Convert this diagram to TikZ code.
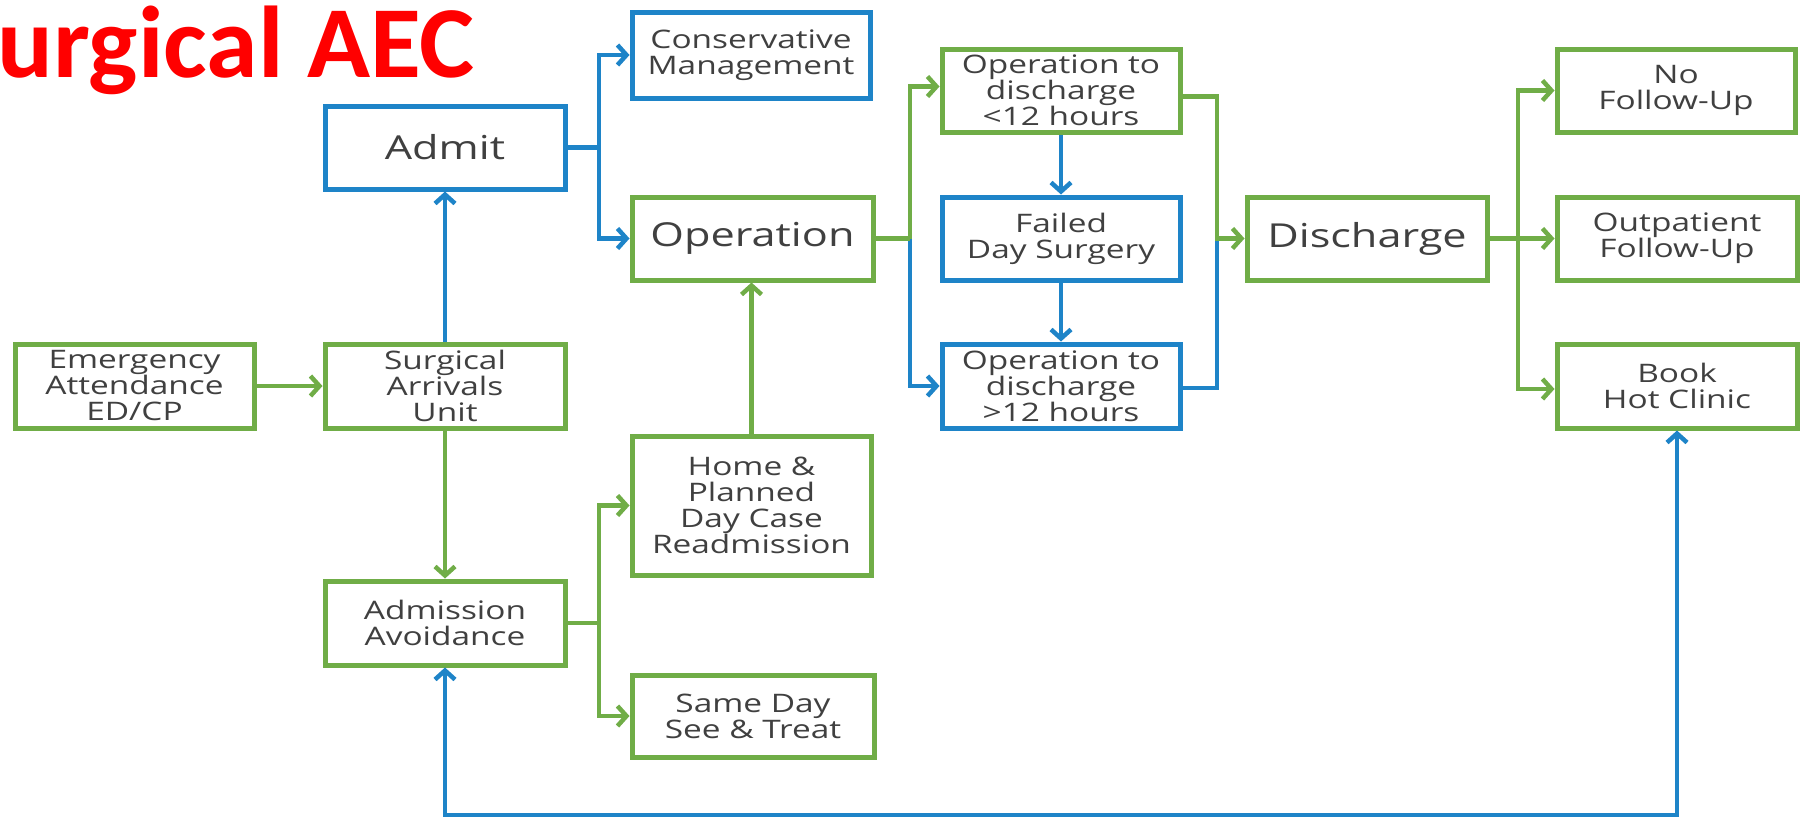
\documentclass[tikz,border=0pt]{standalone}
\usepackage{fontspec}
\usetikzlibrary{arrows.meta}
\newfontfamily\boxfont{Open Sans}[FakeStretch=1.31]
\newfontfamily\titlefont{Carlito}[FakeStretch=1.02]
\definecolor{bblue}{RGB}{30,132,200}
\definecolor{bgreen}{RGB}{112,173,71}
\definecolor{txt}{RGB}{64,64,64}
\tikzset{
  box/.style={draw, line width=5pt, inner sep=0pt, align=center, text=txt,
    font=\boxfont\fontsize{25.5}{26}\selectfont},
  bigbox/.style={box, font=\boxfont\fontsize{33}{34}\selectfont},
  gbox/.style={box, draw=bgreen},
  bbox/.style={box, draw=bblue},
  gline/.style={draw=bgreen, line width=4.5pt},
  bline/.style={draw=bblue, line width=4.5pt},
  tipend/.style={-{Straight Barb[length=9pt,width=20pt]}},
  garr/.style={gline, tipend},
  barr/.style={bline, tipend},
}
\begin{document}
\begin{tikzpicture}[x=1pt,y=-1pt]
\useasboundingbox[fill=white] (0,0) rectangle (1804,819);

\node[anchor=base west, text=red, font=\titlefont\bfseries\fontsize{102}{104}\selectfont, inner sep=0pt] (title) at (-3,77) {urgical AEC};

% boxes
\node[bbox, minimum width=238pt, minimum height=86pt] (cons) at (751,55) {Conservative\\Management};
\node[bbox, bigbox, draw=bblue, minimum width=240pt, minimum height=83pt] (admit) at (445,147.5) {Admit};
\node[gbox, bigbox, draw=bgreen, minimum width=241pt, minimum height=83pt] (oper) at (752.5,238.5) {Operation};
\node[gbox, minimum width=238pt, minimum height=83pt] (op12a) at (1061,90.5) {Operation to\\discharge\\<12 hours};
\node[bbox, minimum width=238pt, minimum height=83pt] (failed) at (1061,238.5) {Failed\\Day Surgery};
\node[bbox, minimum width=238pt, minimum height=84pt] (op12b) at (1061,386) {Operation to\\discharge\\>12 hours};
\node[gbox, bigbox, draw=bgreen, minimum width=240pt, minimum height=83pt] (disch) at (1367,238.5) {Discharge};
\node[gbox, minimum width=238pt, minimum height=83pt] (nofu) at (1676,90.5) {No\\Follow-Up};
\node[gbox, minimum width=240pt, minimum height=83pt] (outp) at (1677,238.5) {Outpatient\\Follow-Up};
\node[gbox, minimum width=240pt, minimum height=84pt] (book) at (1677,386) {Book\\Hot Clinic};
\node[gbox, minimum width=239pt, minimum height=84pt] (emerg) at (134.5,386) {Emergency\\Attendance\\ED/CP};
\node[gbox, minimum width=240pt, minimum height=84pt] (sau) at (445,386) {Surgical\\Arrivals\\Unit};
\node[gbox, minimum width=239pt, minimum height=139pt] (home) at (751.5,505.5) {Home \&\\Planned\\Day Case\\Readmission};
\node[gbox, minimum width=240pt, minimum height=84pt] (aa) at (445,623) {Admission\\Avoidance};
\node[gbox, minimum width=242pt, minimum height=82pt] (same) at (753,716) {Same Day\\See \& Treat};

% junction coordinates
\coordinate (ja) at (599,0);
\coordinate (jo) at (910,0);
\coordinate (jd) at (1217,0);
\coordinate (jf) at (1518,0);
\coordinate (bot) at (0,815);

% connectors
\draw[garr] (emerg.east) -- (sau.west);
\draw[barr] (sau.north) -- (admit.south);
\draw[garr] (sau.south) -- (aa.north);

\draw[bline] (admit.east) -- (admit.east -| ja);
\draw[barr] (admit.east -| ja) |- (cons.west);
\draw[barr] (admit.east -| ja) |- (oper.west);

\draw[gline] (aa.east) -- (aa.east -| ja);
\draw[garr] (aa.east -| ja) |- (home.west);
\draw[garr] (aa.east -| ja) |- (same.west);

\draw[garr] (home.north) -- (home.north |- oper.south);

\draw[barr] (oper.east -| jo) |- (op12b.west);
\draw[gline] (oper.east) -- (oper.east -| jo);
\draw[garr] (oper.east -| jo) |- ([yshift=4pt]op12a.west);

\draw[barr] (op12a.south) -- (failed.north);
\draw[barr] (failed.south) -- (op12b.north);

\draw[bline] ([yshift=-2pt]op12b.east) -- ([yshift=-2pt]op12b.east -| jd) -- (disch.west -| jd);
\draw[garr] ([yshift=-6pt]op12a.east) -- ([yshift=-6pt]op12a.east -| jd) |- (disch.west);

\draw[gline] (disch.east) -- (disch.east -| jf);
\draw[garr] (disch.east -| jf) -- (outp.west);
\draw[garr] (disch.east -| jf) |- (nofu.west);
\draw[garr] (disch.east -| jf) |- ([yshift=-3pt]book.west);

\draw[bline, {Straight Barb[length=9pt,width=20pt]}-{Straight Barb[length=9pt,width=20pt]}]
  (aa.south) -- (aa.south |- bot) -| (book.south);
\end{tikzpicture}
\end{document}
